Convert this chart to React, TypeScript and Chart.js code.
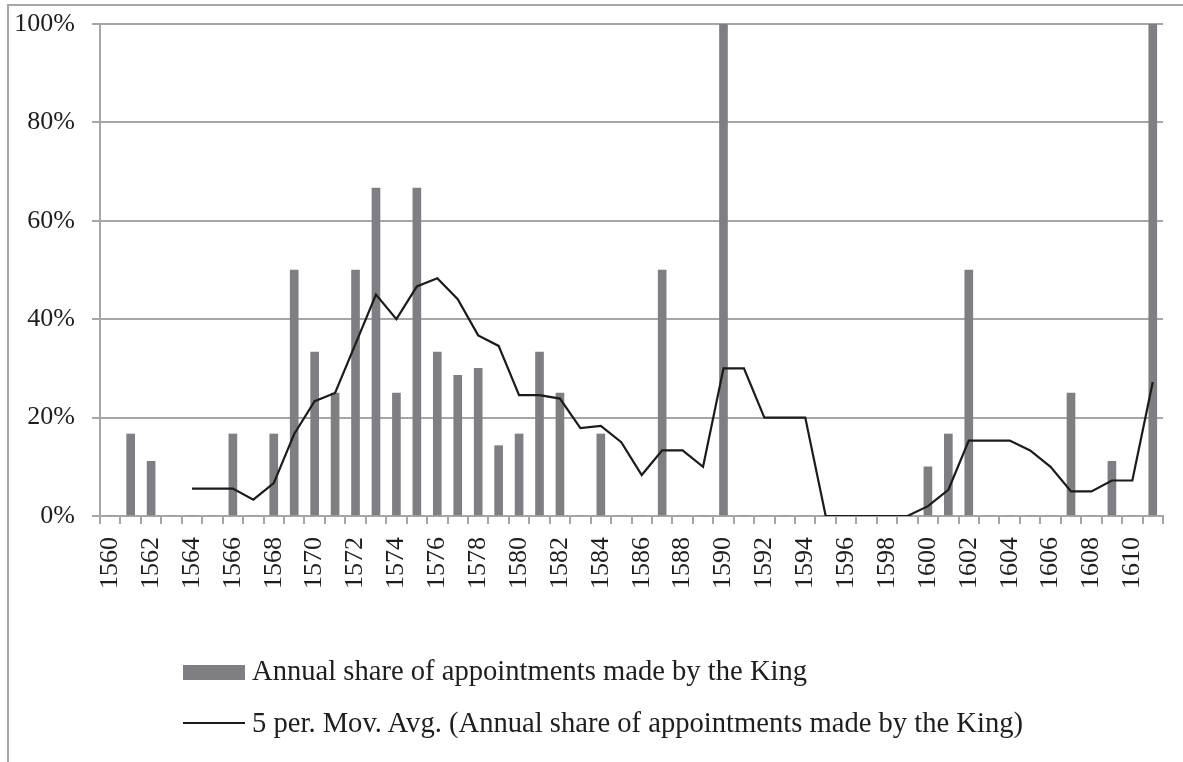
import React, { useEffect, useRef } from "react";
import { Chart, registerables } from "chart.js";

Chart.register(...registerables);

const years: string[] = [
  "1560", "1561", "1562", "1563", "1564", "1565", "1566", "1567", "1568", "1569",
  "1570", "1571", "1572", "1573", "1574", "1575", "1576", "1577", "1578", "1579",
  "1580", "1581", "1582", "1583", "1584", "1585", "1586", "1587", "1588", "1589",
  "1590", "1591", "1592", "1593", "1594", "1595", "1596", "1597", "1598", "1599",
  "1600", "1601", "1602", "1603", "1604", "1605", "1606", "1607", "1608", "1609",
  "1610", "1611",
];

const tickYears: string[] = [
  "1560", "1562", "1564", "1566", "1568", "1570", "1572", "1574", "1576", "1578",
  "1580", "1582", "1584", "1586", "1588", "1590", "1592", "1594", "1596", "1598",
  "1600", "1602", "1604", "1606", "1608", "1610",
];

// Annual share of appointments made by the King (%)
const annualShare: number[] = [
  0, 16.67, 11.11, 0, 0, 0, 16.67, 0, 16.67, 50,
  33.33, 25, 50, 66.67, 25, 66.67, 33.33, 28.57, 30, 14.29,
  16.67, 33.33, 25, 0, 16.67, 0, 0, 50, 0, 0,
  100, 0, 0, 0, 0, 0, 0, 0, 0, 0,
  10, 16.67, 50, 0, 0, 0, 0, 25, 0, 11.11,
  0, 100,
];

// 5 per. moving average (%)
const movingAvg: (number | null)[] = [
  null, null, null, null, 5.56, 5.56, 5.56, 3.33, 6.67, 16.67,
  23.33, 25, 35, 45, 40, 46.67, 48.33, 44.05, 36.71, 34.57,
  24.57, 24.57, 23.86, 17.86, 18.33, 15, 8.33, 13.33, 13.33, 10,
  30, 30, 20, 20, 20, 0, 0, 0, 0, 0,
  2, 5.33, 15.33, 15.33, 15.33, 13.33, 10, 5, 5, 7.22,
  7.22, 27.22,
];

const yTicks: number[] = [0, 20, 40, 60, 80, 100];

const barLabel = "Annual share of appointments made by the King";
const lineLabel = "5 per. Mov. Avg. (Annual share of appointments made by the King)";

const FONT = "'Liberation Serif', 'Times New Roman', serif";
const GRID = "#a6a6a6";
const BAR = "#7f7f83";
const LINE = "#1b1b1b";
const TEXT = "#1e1e1e";

export default function App() {
  const ref = useRef<HTMLCanvasElement | null>(null);

  useEffect(() => {
    if (!ref.current) return;
    const chart = new Chart(ref.current, {
      type: "bar",
      data: {
        labels: years,
        datasets: [
          {
            type: "line",
            label: lineLabel,
            data: movingAvg,
            borderColor: LINE,
            backgroundColor: LINE,
            borderWidth: 2.2,
            pointRadius: 0,
            tension: 0,
            fill: false,
            spanGaps: false,
            order: 0,
          } as any,
          {
            type: "bar",
            label: barLabel,
            data: annualShare,
            backgroundColor: BAR,
            borderWidth: 0,
            barThickness: 8,
            order: 1,
          } as any,
        ],
      },
      options: {
        animation: false,
        responsive: false,
        maintainAspectRatio: false,
        layout: { padding: { left: 0, top: 24, right: 20, bottom: 0 } },
        plugins: {
          legend: { display: false },
          tooltip: { enabled: false },
        },
        scales: {
          x: {
            offset: true,
            afterFit: (s: any) => {
              s.height = 246;
              s.paddingLeft = 0;
              s.paddingRight = 0;
            },
            grid: {
              offset: true,
              drawOnChartArea: false,
              drawTicks: true,
              tickLength: 8,
              color: GRID,
              lineWidth: 2,
            },
            border: { color: GRID, width: 2 },
            ticks: {
              autoSkip: false,
              maxRotation: 90,
              minRotation: 90,
              padding: 13,
              color: TEXT,
              font: { family: FONT, size: 26 },
              callback: (_v: any, i: number) =>
                tickYears.includes(years[i]) ? years[i] : "",
            },
          },
          y: {
            min: 0,
            max: 100,
            afterFit: (s: any) => {
              s.width = 100;
              s.paddingTop = 0;
              s.paddingBottom = 0;
            },
            afterBuildTicks: (s: any) => {
              s.ticks = yTicks.map((v) => ({ value: v }));
            },
            grid: {
              color: GRID,
              lineWidth: 2,
              drawTicks: true,
              tickLength: 8,
            },
            border: { color: GRID, width: 2 },
            ticks: {
              padding: 17,
              color: TEXT,
              font: { family: FONT, size: 26 },
              callback: (v: any) => `${v}%`,
            },
          },
        },
      },
    });
    return () => chart.destroy();
  }, []);

  const legendText: React.CSSProperties = {
    position: "absolute",
    left: 252,
    fontFamily: FONT,
    fontSize: 28.6,
    lineHeight: "28px",
    color: TEXT,
    whiteSpace: "nowrap",
  };

  return (
    <div style={{ position: "absolute", left: 0, top: 0, width: 1183, height: 762, overflow: "hidden" }}>
      <div
        style={{
          position: "absolute",
          left: 7,
          top: 4,
          width: 1200,
          height: 800,
          borderTop: `2px solid ${GRID}`,
          borderLeft: `2px solid ${GRID}`,
          boxSizing: "border-box",
        }}
      />
      <canvas
        ref={ref}
        width={1183}
        height={762}
        style={{ position: "absolute", left: 0, top: 0, width: 1183, height: 762 }}
      />
      <div style={{ position: "absolute", left: 183, top: 665, width: 62, height: 15, background: BAR }} />
      <div style={{ ...legendText, top: 657 }}>{barLabel}</div>
      <div style={{ position: "absolute", left: 183, top: 722, width: 62, height: 2, background: LINE }} />
      <div style={{ ...legendText, top: 709 }}>{lineLabel}</div>
    </div>
  );
}
